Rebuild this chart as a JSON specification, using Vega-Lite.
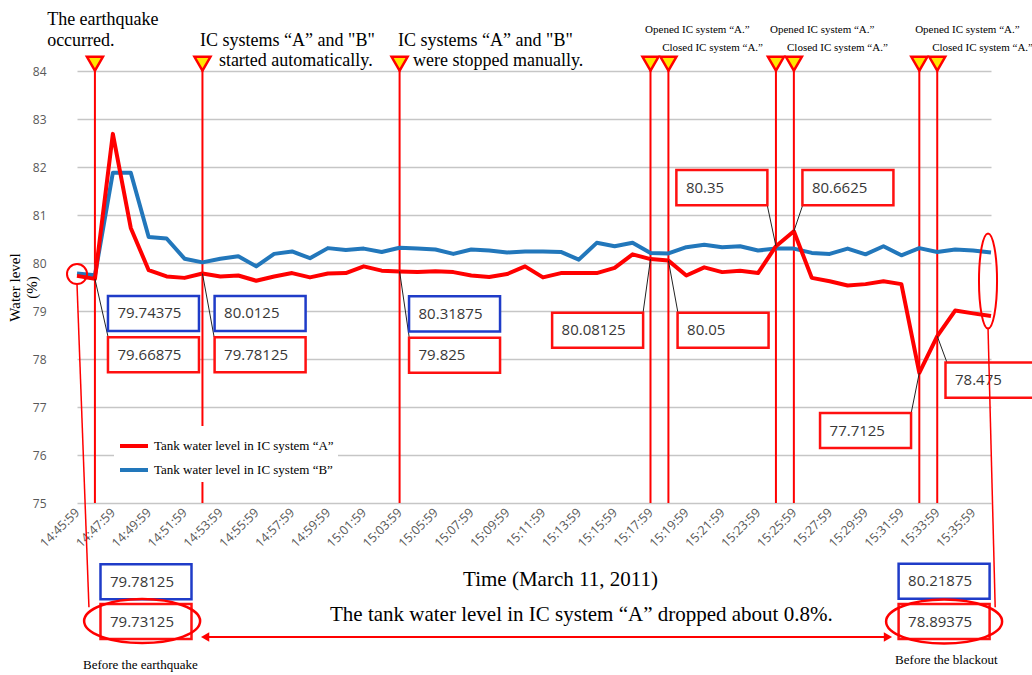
{
  "$schema": "https://vega.github.io/schema/vega-lite/v6.json",
  "width": 914,
  "height": 432,
  "autosize": {"type": "none"},
  "padding": {"left": 77, "top": 71, "right": 41, "bottom": 172},
  "background": "white",
  "config": {"view": {"stroke": null}, "font": "Liberation Serif"},
  "datasets": {
    "series": [
      {"time": "2011-03-11T14:45:59", "series": "A", "level": 79.73125}, {"time": "2011-03-11T14:45:59", "series": "B", "level": 79.78125},
      {"time": "2011-03-11T14:46:59", "series": "A", "level": 79.66875}, {"time": "2011-03-11T14:46:59", "series": "B", "level": 79.74375},
      {"time": "2011-03-11T14:47:59", "series": "A", "level": 82.69}, {"time": "2011-03-11T14:47:59", "series": "B", "level": 81.88},
      {"time": "2011-03-11T14:48:59", "series": "A", "level": 80.73}, {"time": "2011-03-11T14:48:59", "series": "B", "level": 81.88},
      {"time": "2011-03-11T14:49:59", "series": "A", "level": 79.85}, {"time": "2011-03-11T14:49:59", "series": "B", "level": 80.54},
      {"time": "2011-03-11T14:50:59", "series": "A", "level": 79.72}, {"time": "2011-03-11T14:50:59", "series": "B", "level": 80.51},
      {"time": "2011-03-11T14:51:59", "series": "A", "level": 79.69}, {"time": "2011-03-11T14:51:59", "series": "B", "level": 80.09},
      {"time": "2011-03-11T14:52:59", "series": "A", "level": 79.78125}, {"time": "2011-03-11T14:52:59", "series": "B", "level": 80.0125},
      {"time": "2011-03-11T14:53:59", "series": "A", "level": 79.72}, {"time": "2011-03-11T14:53:59", "series": "B", "level": 80.09},
      {"time": "2011-03-11T14:54:59", "series": "A", "level": 79.74}, {"time": "2011-03-11T14:54:59", "series": "B", "level": 80.14},
      {"time": "2011-03-11T14:55:59", "series": "A", "level": 79.63}, {"time": "2011-03-11T14:55:59", "series": "B", "level": 79.93},
      {"time": "2011-03-11T14:56:59", "series": "A", "level": 79.72}, {"time": "2011-03-11T14:56:59", "series": "B", "level": 80.19},
      {"time": "2011-03-11T14:57:59", "series": "A", "level": 79.79}, {"time": "2011-03-11T14:57:59", "series": "B", "level": 80.24},
      {"time": "2011-03-11T14:58:59", "series": "A", "level": 79.7}, {"time": "2011-03-11T14:58:59", "series": "B", "level": 80.1},
      {"time": "2011-03-11T14:59:59", "series": "A", "level": 79.78}, {"time": "2011-03-11T14:59:59", "series": "B", "level": 80.31},
      {"time": "2011-03-11T15:00:59", "series": "A", "level": 79.79}, {"time": "2011-03-11T15:00:59", "series": "B", "level": 80.27},
      {"time": "2011-03-11T15:01:59", "series": "A", "level": 79.93}, {"time": "2011-03-11T15:01:59", "series": "B", "level": 80.3},
      {"time": "2011-03-11T15:02:59", "series": "A", "level": 79.84}, {"time": "2011-03-11T15:02:59", "series": "B", "level": 80.23},
      {"time": "2011-03-11T15:03:59", "series": "A", "level": 79.825}, {"time": "2011-03-11T15:03:59", "series": "B", "level": 80.31875},
      {"time": "2011-03-11T15:04:59", "series": "A", "level": 79.81}, {"time": "2011-03-11T15:04:59", "series": "B", "level": 80.3},
      {"time": "2011-03-11T15:05:59", "series": "A", "level": 79.83}, {"time": "2011-03-11T15:05:59", "series": "B", "level": 80.28},
      {"time": "2011-03-11T15:06:59", "series": "A", "level": 79.81}, {"time": "2011-03-11T15:06:59", "series": "B", "level": 80.19},
      {"time": "2011-03-11T15:07:59", "series": "A", "level": 79.74}, {"time": "2011-03-11T15:07:59", "series": "B", "level": 80.28},
      {"time": "2011-03-11T15:08:59", "series": "A", "level": 79.71}, {"time": "2011-03-11T15:08:59", "series": "B", "level": 80.26},
      {"time": "2011-03-11T15:09:59", "series": "A", "level": 79.77}, {"time": "2011-03-11T15:09:59", "series": "B", "level": 80.22},
      {"time": "2011-03-11T15:10:59", "series": "A", "level": 79.93}, {"time": "2011-03-11T15:10:59", "series": "B", "level": 80.24},
      {"time": "2011-03-11T15:11:59", "series": "A", "level": 79.7}, {"time": "2011-03-11T15:11:59", "series": "B", "level": 80.24},
      {"time": "2011-03-11T15:12:59", "series": "A", "level": 79.79}, {"time": "2011-03-11T15:12:59", "series": "B", "level": 80.23},
      {"time": "2011-03-11T15:13:59", "series": "A", "level": 79.79}, {"time": "2011-03-11T15:13:59", "series": "B", "level": 80.07},
      {"time": "2011-03-11T15:14:59", "series": "A", "level": 79.79}, {"time": "2011-03-11T15:14:59", "series": "B", "level": 80.42},
      {"time": "2011-03-11T15:15:59", "series": "A", "level": 79.9}, {"time": "2011-03-11T15:15:59", "series": "B", "level": 80.35},
      {"time": "2011-03-11T15:16:59", "series": "A", "level": 80.18}, {"time": "2011-03-11T15:16:59", "series": "B", "level": 80.42},
      {"time": "2011-03-11T15:17:59", "series": "A", "level": 80.08125}, {"time": "2011-03-11T15:17:59", "series": "B", "level": 80.21},
      {"time": "2011-03-11T15:18:59", "series": "A", "level": 80.05}, {"time": "2011-03-11T15:18:59", "series": "B", "level": 80.2},
      {"time": "2011-03-11T15:19:59", "series": "A", "level": 79.74}, {"time": "2011-03-11T15:19:59", "series": "B", "level": 80.33},
      {"time": "2011-03-11T15:20:59", "series": "A", "level": 79.91}, {"time": "2011-03-11T15:20:59", "series": "B", "level": 80.38},
      {"time": "2011-03-11T15:21:59", "series": "A", "level": 79.81}, {"time": "2011-03-11T15:21:59", "series": "B", "level": 80.33},
      {"time": "2011-03-11T15:22:59", "series": "A", "level": 79.84}, {"time": "2011-03-11T15:22:59", "series": "B", "level": 80.35},
      {"time": "2011-03-11T15:23:59", "series": "A", "level": 79.79}, {"time": "2011-03-11T15:23:59", "series": "B", "level": 80.26},
      {"time": "2011-03-11T15:24:59", "series": "A", "level": 80.35}, {"time": "2011-03-11T15:24:59", "series": "B", "level": 80.3},
      {"time": "2011-03-11T15:25:59", "series": "A", "level": 80.6625}, {"time": "2011-03-11T15:25:59", "series": "B", "level": 80.3},
      {"time": "2011-03-11T15:26:59", "series": "A", "level": 79.69}, {"time": "2011-03-11T15:26:59", "series": "B", "level": 80.21},
      {"time": "2011-03-11T15:27:59", "series": "A", "level": 79.62}, {"time": "2011-03-11T15:27:59", "series": "B", "level": 80.19},
      {"time": "2011-03-11T15:28:59", "series": "A", "level": 79.53}, {"time": "2011-03-11T15:28:59", "series": "B", "level": 80.3},
      {"time": "2011-03-11T15:29:59", "series": "A", "level": 79.56}, {"time": "2011-03-11T15:29:59", "series": "B", "level": 80.18},
      {"time": "2011-03-11T15:30:59", "series": "A", "level": 79.62}, {"time": "2011-03-11T15:30:59", "series": "B", "level": 80.35},
      {"time": "2011-03-11T15:31:59", "series": "A", "level": 79.56}, {"time": "2011-03-11T15:31:59", "series": "B", "level": 80.16},
      {"time": "2011-03-11T15:32:59", "series": "A", "level": 77.7125}, {"time": "2011-03-11T15:32:59", "series": "B", "level": 80.31},
      {"time": "2011-03-11T15:33:59", "series": "A", "level": 78.475}, {"time": "2011-03-11T15:33:59", "series": "B", "level": 80.23},
      {"time": "2011-03-11T15:34:59", "series": "A", "level": 79.01}, {"time": "2011-03-11T15:34:59", "series": "B", "level": 80.28},
      {"time": "2011-03-11T15:35:59", "series": "A", "level": 78.95}, {"time": "2011-03-11T15:35:59", "series": "B", "level": 80.26},
      {"time": "2011-03-11T15:36:59", "series": "A", "level": 78.89375}, {"time": "2011-03-11T15:36:59", "series": "B", "level": 80.21875}
    ],
    "events": [
      {"time": "2011-03-11T14:46:59", "level": 84.15, "event": "The earthquake occurred."},
      {"time": "2011-03-11T14:52:59", "level": 84.15, "event": "IC systems started automatically."},
      {"time": "2011-03-11T15:03:59", "level": 84.15, "event": "IC systems were stopped manually."},
      {"time": "2011-03-11T15:17:59", "level": 84.15, "event": "Opened IC system A"},
      {"time": "2011-03-11T15:18:59", "level": 84.15, "event": "Closed IC system A"},
      {"time": "2011-03-11T15:24:59", "level": 84.15, "event": "Opened IC system A"},
      {"time": "2011-03-11T15:25:59", "level": 84.15, "event": "Closed IC system A"},
      {"time": "2011-03-11T15:32:59", "level": 84.15, "event": "Opened IC system A"},
      {"time": "2011-03-11T15:33:59", "level": 84.15, "event": "Closed IC system A"}
    ],
    "leaders": [
      {"time": "2011-03-11T14:46:59", "level": 79.66875, "endTime": "2011-03-11T14:47:43", "endLevel": 78.46},
      {"time": "2011-03-11T14:52:59", "level": 79.78125, "endTime": "2011-03-11T14:53:38", "endLevel": 78.46},
      {"time": "2011-03-11T15:03:59", "level": 79.825, "endTime": "2011-03-11T15:04:31", "endLevel": 78.46},
      {"time": "2011-03-11T15:17:59", "level": 80.08125, "endTime": "2011-03-11T15:17:34", "endLevel": 78.96},
      {"time": "2011-03-11T15:18:59", "level": 80.05, "endTime": "2011-03-11T15:19:31", "endLevel": 78.96},
      {"time": "2011-03-11T15:24:59", "level": 80.35, "endTime": "2011-03-11T15:24:29", "endLevel": 81.23},
      {"time": "2011-03-11T15:25:59", "level": 80.6625, "endTime": "2011-03-11T15:26:30", "endLevel": 81.23},
      {"time": "2011-03-11T15:32:59", "level": 77.7125, "endTime": "2011-03-11T15:32:31", "endLevel": 76.85},
      {"time": "2011-03-11T15:33:59", "level": 78.475, "endTime": "2011-03-11T15:34:32", "endLevel": 77.92}
    ],
    "boxes": [
      {"series": "B", "value": "79.74375", "time": "2011-03-11T14:50:15", "level": 78.95},
      {"series": "A", "value": "79.66875", "time": "2011-03-11T14:50:15", "level": 78.09},
      {"series": "B", "value": "80.0125", "time": "2011-03-11T14:56:12", "level": 78.95},
      {"series": "A", "value": "79.78125", "time": "2011-03-11T14:56:12", "level": 78.09},
      {"series": "B", "value": "80.31875", "time": "2011-03-11T15:07:03", "level": 78.94},
      {"series": "A", "value": "79.825", "time": "2011-03-11T15:07:03", "level": 78.08},
      {"series": "A", "value": "80.08125", "time": "2011-03-11T15:15:02", "level": 78.6},
      {"series": "A", "value": "80.05", "time": "2011-03-11T15:22:02", "level": 78.6},
      {"series": "A", "value": "80.35", "time": "2011-03-11T15:21:58", "level": 81.57},
      {"series": "A", "value": "80.6625", "time": "2011-03-11T15:29:00", "level": 81.57},
      {"series": "A", "value": "77.7125", "time": "2011-03-11T15:29:59", "level": 76.51},
      {"series": "A", "value": "78.475", "time": "2011-03-11T15:36:59", "level": 77.56},
      {"series": "B", "value": "79.78125", "time": "2011-03-11T14:49:50", "level": 73.36},
      {"series": "A", "value": "79.73125", "time": "2011-03-11T14:49:50", "level": 72.53},
      {"series": "B", "value": "80.21875", "time": "2011-03-11T15:34:22", "level": 73.37},
      {"series": "A", "value": "78.89375", "time": "2011-03-11T15:34:22", "level": 72.53}
    ],
    "ellipses": [
      {"kind": "circle", "time": "2011-03-11T14:45:59", "level": 79.77},
      {"kind": "tall", "time": "2011-03-11T15:36:49", "level": 79.625},
      {"kind": "wide", "time": "2011-03-11T14:49:37", "level": 72.54},
      {"kind": "wide", "time": "2011-03-11T15:34:22", "level": 72.53}
    ],
    "connectors": [
      {"time": "2011-03-11T14:45:59", "level": 79.56, "endTime": "2011-03-11T14:46:39", "endLevel": 72.83},
      {"time": "2011-03-11T15:36:49", "level": 78.65, "endTime": "2011-03-11T15:37:13", "endLevel": 72.83}
    ],
    "arrow": [
      {"time": "2011-03-11T14:53:08", "endTime": "2011-03-11T15:31:14", "level": 72.21}
    ],
    "bigTexts": [
      {"text": "The earthquake\noccurred.", "time": "2011-03-11T14:44:19", "level": 84.96},
      {"text": "IC systems “A” and \"B\"", "time": "2011-03-11T14:52:51", "level": 84.52},
      {"text": "started automatically.", "time": "2011-03-11T14:53:54", "level": 84.1},
      {"text": "IC systems “A” and \"B\"", "time": "2011-03-11T15:03:54", "level": 84.52},
      {"text": "were stopped manually.", "time": "2011-03-11T15:04:44", "level": 84.1}
    ],
    "noteText": [
      {"text": "The tank water level in IC system “A” dropped about 0.8%.", "time": "2011-03-11T15:00:06", "level": 72.54}
    ],
    "smallTexts": [
      {"text": "Opened IC system “A.”", "time": "2011-03-11T15:17:41", "level": 84.79},
      {"text": "Closed IC system “A.”", "time": "2011-03-11T15:18:38", "level": 84.42},
      {"text": "Opened IC system “A.”", "time": "2011-03-11T15:24:39", "level": 84.79},
      {"text": "Closed IC system “A.”", "time": "2011-03-11T15:25:36", "level": 84.42},
      {"text": "Opened IC system “A.”", "time": "2011-03-11T15:32:45", "level": 84.79},
      {"text": "Closed IC system “A.”", "time": "2011-03-11T15:33:42", "level": 84.42}
    ],
    "captions": [
      {"text": "Before the earthquake", "time": "2011-03-11T14:46:19", "level": 71.54},
      {"text": "Before the blackout", "time": "2011-03-11T15:31:38", "level": 71.65}
    ]
  },
  "encoding": {
    "x": {
      "field": "time",
      "type": "temporal",
      "scale": {"domain": [
        {"year": 2011, "month": 3, "date": 11, "hours": 14, "minutes": 45, "seconds": 59},
        {"year": 2011, "month": 3, "date": 11, "hours": 15, "minutes": 36, "seconds": 59}
      ]},
      "axis": {
        "values": [
          {"year": 2011, "month": 3, "date": 11, "hours": 14, "minutes": 45, "seconds": 59},
          {"year": 2011, "month": 3, "date": 11, "hours": 14, "minutes": 47, "seconds": 59},
          {"year": 2011, "month": 3, "date": 11, "hours": 14, "minutes": 49, "seconds": 59},
          {"year": 2011, "month": 3, "date": 11, "hours": 14, "minutes": 51, "seconds": 59},
          {"year": 2011, "month": 3, "date": 11, "hours": 14, "minutes": 53, "seconds": 59},
          {"year": 2011, "month": 3, "date": 11, "hours": 14, "minutes": 55, "seconds": 59},
          {"year": 2011, "month": 3, "date": 11, "hours": 14, "minutes": 57, "seconds": 59},
          {"year": 2011, "month": 3, "date": 11, "hours": 14, "minutes": 59, "seconds": 59},
          {"year": 2011, "month": 3, "date": 11, "hours": 15, "minutes": 1, "seconds": 59},
          {"year": 2011, "month": 3, "date": 11, "hours": 15, "minutes": 3, "seconds": 59},
          {"year": 2011, "month": 3, "date": 11, "hours": 15, "minutes": 5, "seconds": 59},
          {"year": 2011, "month": 3, "date": 11, "hours": 15, "minutes": 7, "seconds": 59},
          {"year": 2011, "month": 3, "date": 11, "hours": 15, "minutes": 9, "seconds": 59},
          {"year": 2011, "month": 3, "date": 11, "hours": 15, "minutes": 11, "seconds": 59},
          {"year": 2011, "month": 3, "date": 11, "hours": 15, "minutes": 13, "seconds": 59},
          {"year": 2011, "month": 3, "date": 11, "hours": 15, "minutes": 15, "seconds": 59},
          {"year": 2011, "month": 3, "date": 11, "hours": 15, "minutes": 17, "seconds": 59},
          {"year": 2011, "month": 3, "date": 11, "hours": 15, "minutes": 19, "seconds": 59},
          {"year": 2011, "month": 3, "date": 11, "hours": 15, "minutes": 21, "seconds": 59},
          {"year": 2011, "month": 3, "date": 11, "hours": 15, "minutes": 23, "seconds": 59},
          {"year": 2011, "month": 3, "date": 11, "hours": 15, "minutes": 25, "seconds": 59},
          {"year": 2011, "month": 3, "date": 11, "hours": 15, "minutes": 27, "seconds": 59},
          {"year": 2011, "month": 3, "date": 11, "hours": 15, "minutes": 29, "seconds": 59},
          {"year": 2011, "month": 3, "date": 11, "hours": 15, "minutes": 31, "seconds": 59},
          {"year": 2011, "month": 3, "date": 11, "hours": 15, "minutes": 33, "seconds": 59},
          {"year": 2011, "month": 3, "date": 11, "hours": 15, "minutes": 35, "seconds": 59}
        ],
        "format": "%H:%M:%S",
        "labelAngle": -45,
        "labelAlign": "right",
        "labelBaseline": "middle",
        "labelPadding": 7,
        "labelFont": "Open Sans",
        "labelFontSize": 12.5,
        "labelColor": "#595959",
        "labelOverlap": false,
        "labelFlush": false,
        "labelBound": false,
        "ticks": false,
        "domain": false,
        "grid": false,
        "title": "Time (March 11, 2011)",
        "titleFont": "Liberation Serif",
        "titleFontSize": 21,
        "titleFontWeight": "normal",
        "titleColor": "black",
        "titleX": 483,
        "titleY": 82,
        "titleAlign": "center",
        "titleBaseline": "alphabetic"
      }
    },
    "y": {
      "field": "level",
      "type": "quantitative",
      "scale": {"domain": [75, 84], "nice": false, "zero": false},
      "axis": {
        "values": [75, 76, 77, 78, 79, 80, 81, 82, 83, 84],
        "grid": true,
        "gridColor": "#c6c6c6",
        "gridWidth": 1.5,
        "domain": false,
        "ticks": false,
        "labelFont": "Open Sans",
        "labelFontSize": 12,
        "labelColor": "#595959",
        "labelPadding": 31,
        "labelFlush": false,
        "title": ["Water level", "(%)"],
        "titleFont": "Liberation Serif",
        "titleFontSize": 15,
        "titleFontWeight": "normal",
        "titleColor": "black",
        "titleAngle": -90,
        "titleX": -70,
        "titleY": 216,
        "titleAlign": "center",
        "titleBaseline": "top",
        "titleLineHeight": 17
      }
    }
  },
  "layer": [
    {
      "data": {"name": "events"},
      "mark": {"type": "rule", "color": "#ff0000", "strokeWidth": 2},
      "encoding": {"y2": {"datum": 75}}
    },
    {
      "data": {"name": "series"},
      "transform": [{"filter": "datum.series === 'B'"}],
      "mark": {"type": "line", "strokeWidth": 4, "strokeJoin": "round", "clip": false},
      "encoding": {
        "color": {
          "field": "series",
          "type": "nominal",
          "scale": {"domain": ["A", "B"], "range": ["#ff0000", "#2277bb"]},
          "legend": {
            "orient": "none",
            "legendX": 37,
            "legendY": 355,
            "title": null,
            "symbolType": "stroke",
            "symbolStrokeWidth": 4,
            "symbolSize": 784,
            "labelFont": "Liberation Serif",
            "labelFontSize": 13,
            "labelColor": "black",
            "labelOffset": 4,
            "labelLimit": 400,
            "rowPadding": 0,
            "padding": 4,
            "fillColor": "white",
            "labelExpr": "'Tank water level in IC system “' + datum.label + '”'"
          }
        }
      }
    },
    {
      "data": {"name": "series"},
      "transform": [{"filter": "datum.series === 'A'"}],
      "mark": {"type": "line", "strokeWidth": 4, "strokeJoin": "round", "clip": false},
      "encoding": {
        "color": {"field": "series", "type": "nominal", "scale": {"domain": ["A", "B"], "range": ["#ff0000", "#2277bb"]}}
      }
    },
    {
      "data": {"name": "leaders"},
      "mark": {"type": "rule", "color": "#222222", "strokeWidth": 1},
      "encoding": {
        "x2": {"field": "endTime", "type": "temporal"},
        "y2": {"field": "endLevel"}
      }
    },
    {
      "data": {"name": "boxes"},
      "mark": {"type": "point", "shape": "M-1,-0.385L1,-0.385L1,0.385L-1,0.385Z", "size": 8281, "filled": true, "fill": "white", "strokeWidth": 2.5, "opacity": 1, "clip": false},
      "encoding": {
        "stroke": {"field": "series", "type": "nominal", "scale": {"domain": ["A", "B"], "range": ["#ff1010", "#1f3cc8"]}, "legend": null}
      }
    },
    {
      "data": {"name": "boxes"},
      "mark": {"type": "text", "align": "left", "baseline": "middle", "dx": -36, "font": "Open Sans", "fontSize": 15, "color": "#383838", "clip": false},
      "encoding": {"text": {"field": "value", "type": "nominal"}}
    },
    {
      "data": {"name": "events"},
      "mark": {"type": "point", "shape": "triangle-down", "size": 256, "filled": true, "fill": "#ffe600", "stroke": "#ff0000", "strokeWidth": 2.5, "opacity": 1, "clip": false}
    },
    {
      "data": {"name": "ellipses"},
      "transform": [{"filter": "datum.kind === 'circle'"}],
      "mark": {"type": "point", "shape": "circle", "size": 400, "filled": false, "stroke": "#ff0000", "strokeWidth": 2, "opacity": 1, "clip": false}
    },
    {
      "data": {"name": "ellipses"},
      "transform": [{"filter": "datum.kind === 'tall'"}],
      "mark": {"type": "point", "shape": "M0,-1C0.105,-1,0.19,-0.552,0.19,0C0.19,0.552,0.105,1,0,1C-0.105,1,-0.19,0.552,-0.19,0C-0.19,-0.552,-0.105,-1,0,-1Z", "size": 9025, "filled": false, "stroke": "#ff0000", "strokeWidth": 2, "opacity": 1, "clip": false}
    },
    {
      "data": {"name": "ellipses"},
      "transform": [{"filter": "datum.kind === 'wide'"}],
      "mark": {"type": "point", "shape": "M-1,0C-1,-0.209,-0.552,-0.379,0,-0.379C0.552,-0.379,1,-0.209,1,0C1,0.209,0.552,0.379,0,0.379C-0.552,0.379,-1,0.209,-1,0Z", "size": 13456, "filled": false, "stroke": "#ff0000", "strokeWidth": 2.5, "opacity": 1, "clip": false}
    },
    {
      "data": {"name": "connectors"},
      "mark": {"type": "rule", "color": "#ff0000", "strokeWidth": 1.5},
      "encoding": {
        "x2": {"field": "endTime", "type": "temporal"},
        "y2": {"field": "endLevel"}
      }
    },
    {
      "data": {"name": "arrow"},
      "mark": {"type": "rule", "color": "#ff0000", "strokeWidth": 2},
      "encoding": {"x2": {"field": "endTime", "type": "temporal"}}
    },
    {
      "data": {"name": "arrow"},
      "mark": {"type": "point", "shape": "triangle-left", "size": 90, "filled": true, "color": "#ff0000", "opacity": 1, "clip": false}
    },
    {
      "data": {"name": "arrow"},
      "mark": {"type": "point", "shape": "triangle-right", "size": 90, "filled": true, "color": "#ff0000", "opacity": 1, "clip": false},
      "encoding": {"x": {"field": "endTime", "type": "temporal"}}
    },
    {
      "data": {"name": "bigTexts"},
      "mark": {"type": "text", "align": "left", "baseline": "alphabetic", "font": "Liberation Serif", "fontSize": 18, "lineHeight": 21, "lineBreak": "\n", "color": "black", "clip": false},
      "encoding": {"text": {"field": "text", "type": "nominal"}}
    },
    {
      "data": {"name": "noteText"},
      "mark": {"type": "text", "align": "left", "baseline": "alphabetic", "font": "Liberation Serif", "fontSize": 21, "color": "black", "clip": false},
      "encoding": {"text": {"field": "text", "type": "nominal"}}
    },
    {
      "data": {"name": "smallTexts"},
      "mark": {"type": "text", "align": "left", "baseline": "alphabetic", "font": "Liberation Serif", "fontSize": 11, "color": "black", "clip": false},
      "encoding": {"text": {"field": "text", "type": "nominal"}}
    },
    {
      "data": {"name": "captions"},
      "mark": {"type": "text", "align": "left", "baseline": "alphabetic", "font": "Liberation Serif", "fontSize": 13, "color": "black", "clip": false},
      "encoding": {"text": {"field": "text", "type": "nominal"}}
    }
  ]
}
